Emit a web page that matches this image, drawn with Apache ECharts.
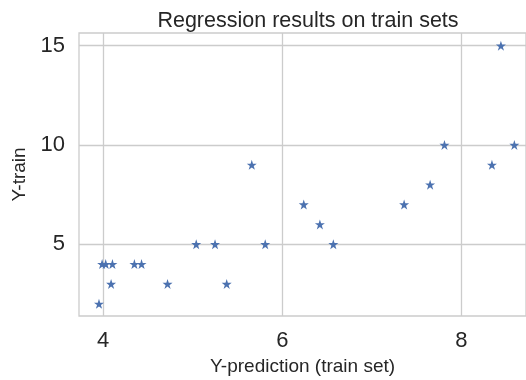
<!DOCTYPE html>
<html>
<head>
<meta charset="utf-8">
<script src="https://cdn.jsdelivr.net/npm/echarts@6/dist/echarts.min.js"></script>
<style>html,body{margin:0;padding:0;background:#fff}#c{width:526px;height:380px}</style>
</head>
<body>
<div id="c"></div>
<script>
const titleText = "Regression results on train sets";
const xTitle = "Y-prediction (train set)";
const yTitle = "Y-train";
const xTicks = [4, 6, 8];
const yTicks = [5, 10, 15];
const yPrediction = [3.955, 3.99, 4.03, 4.105, 4.09, 4.35, 4.43, 4.72, 5.04, 5.25, 5.38, 5.66, 5.81, 6.24, 6.42, 6.57, 7.36, 7.65, 7.81, 8.34, 8.44, 8.59];
const yTrain =      [2,     4,    4,    4,     3,    4,    4,    3,    5,    5,    3,    9,    5,    7,    6,    5,    7,    8,    10,   9,    15,   10];

const points = yPrediction.map((x, i) => [x, yTrain[i]]);
const chart = echarts.init(document.getElementById('c'), null, {renderer: 'canvas'});
const font = "'Liberation Sans', Arial, sans-serif";
chart.setOption({
  animation: false,
  backgroundColor: '#ffffff',
  title: {
    text: titleText, left: 303, top: 5, textAlign: 'center',
    textStyle: {fontFamily: font, fontSize: 21.5, fontWeight: 'normal', color: '#262626'}
  },
  grid: {left: 79, top: 33, right: 0, bottom: 64, show: true, borderColor: '#cccccc', borderWidth: 1.3, containLabel: false, outerBoundsMode: 'none'},
  xAxis: {
    type: 'value', min: 3.732, max: 8.72,
    name: xTitle, nameLocation: 'middle', nameGap: 41,
    nameTextStyle: {fontFamily: font, fontSize: 19, color: '#262626'},
    axisLine: {show: false}, axisTick: {show: false, customValues: xTicks},
    axisLabel: {customValues: xTicks, fontFamily: font, fontSize: 22, color: '#262626', margin: 14},
    splitLine: {show: true, lineStyle: {color: '#cccccc', width: 1.3}}
  },
  yAxis: {
    type: 'value', min: 1.386, max: 15.64,
    name: yTitle, nameLocation: 'middle', nameGap: 49, nameRotate: 90,
    nameTextStyle: {fontFamily: font, fontSize: 19, color: '#262626'},
    axisLine: {show: false}, axisTick: {show: false, customValues: yTicks},
    axisLabel: {customValues: yTicks, fontFamily: font, fontSize: 22, color: '#262626', margin: 14},
    splitLine: {show: true, lineStyle: {color: '#cccccc', width: 1.3}}
  },
  series: [{
    type: 'scatter', data: points, symbol: 'path://M50,0 L61.8,35.4 L99,35.4 L69,57.3 L80.3,92.7 L50,70.8 L19.7,92.7 L31,57.3 L1,35.4 L38.2,35.4 Z',
    symbolSize: 10,
    itemStyle: {color: '#4c72b0', opacity: 1}
  }]
});
</script>
</body>
</html>
